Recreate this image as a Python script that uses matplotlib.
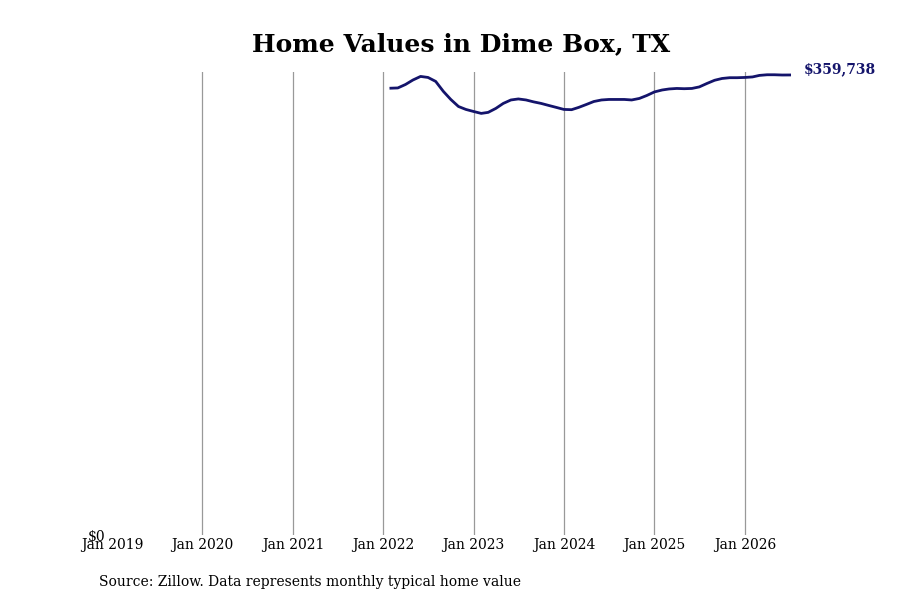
import pandas as pd
import numpy as np
import matplotlib.pyplot as plt
import matplotlib.dates as mdates

plt.rcParams['font.family'] = 'DejaVu Serif'

# --- data (monthly typical home value) ---
start_month = "2022-02-01"
home_values = [
    349400, 349600, 352300, 355800, 358600, 357800, 354700, 346900, 340600, 335100, 332800,
    331200, 329700, 330500, 333600, 337500, 340200, 341000, 340200, 338700, 337500, 335900, 334400,
    332800, 332600, 334400, 336700, 339000, 340200, 340600, 340600, 340600, 340200, 341400, 343700,
    346500, 348000, 348800, 349200, 349000, 349200, 350400, 353100, 355600, 357000, 357600, 357600,
    357800, 358200, 359400, 359900, 359900, 359700, 359738,
]
tick_years = [2019, 2020, 2021, 2022, 2023, 2024, 2025, 2026]
tick_labels = [f"Jan {y}" for y in tick_years]

dates = pd.date_range(start_month, periods=len(home_values), freq="MS")
line_color = "#14146b"

fig = plt.figure(figsize=(9, 6), dpi=100)
ax = fig.add_axes([0.1244, 0.108, 0.77, 0.772])

ax.plot(dates, home_values, color=line_color, linewidth=2)

# vertical year lines
for y in tick_years[1:]:
    ax.axvline(pd.Timestamp(f"{y}-01-01"), color="#999999", linewidth=0.9, zorder=0)

ax.set_xlim(pd.Timestamp("2019-01-01"), pd.Timestamp("2026-09-01"))
ax.set_ylim(0, max(home_values) * 1.006)

ax.set_xticks([pd.Timestamp(f"{y}-01-01") for y in tick_years])
ax.set_xticklabels(tick_labels, fontsize=10)
ax.set_yticks([0])
ax.set_yticklabels(["$0"], fontsize=10)
ax.tick_params(axis="both", length=0)
ax.tick_params(axis="x", pad=2)
ax.tick_params(axis="y", pad=5)
for s in ax.spines.values():
    s.set_visible(False)

# end label
ax.annotate(f"${home_values[-1]:,}", xy=(dates[-1], home_values[-1]),
            xytext=(10, 4), textcoords="offset points",
            fontsize=10, fontweight="bold", color=line_color, va="center")

fig.text(0.512, 0.927, "Home Values in Dime Box, TX", ha="center", va="center",
         fontsize=18, fontweight="bold")
fig.text(0.11, 0.03, "Source: Zillow. Data represents monthly typical home value",
         ha="left", va="center", fontsize=10)

fig.savefig("out.png", dpi=100)
